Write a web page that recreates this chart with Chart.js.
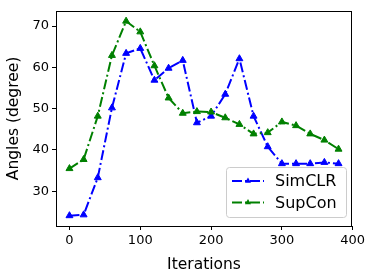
<!DOCTYPE html>
<html>
<head>
<meta charset="utf-8">
<script src="https://cdn.jsdelivr.net/npm/chart.js@4.4.1/dist/chart.umd.min.js"></script>
<style>
  html, body { margin: 0; padding: 0; background: #fff; }
</style>
</head>
<body>
<canvas id="myChart" width="374" height="278"></canvas>
<script>
var iterations = [0, 20, 40, 60, 80, 100, 120, 140, 160, 180, 200, 220, 240, 260, 280, 300, 320, 340, 360, 380];
var simclr = [24.1, 24.3, 33.3, 50.2, 63.4, 64.6, 56.9, 59.8, 61.7, 46.6, 48.2, 53.5, 62.1, 48.2, 40.8, 36.7, 36.7, 36.7, 37.0, 36.7];
var supcon = [35.5, 37.7, 48.2, 62.9, 71.2, 68.6, 60.4, 52.6, 48.9, 49.3, 49.2, 47.8, 46.2, 43.9, 44.2, 46.8, 45.9, 43.9, 42.4, 40.2];
var xTicks = [0, 100, 200, 300, 400];
var yTicks = [30, 40, 50, 60, 70];
var seriesNames = ["SimCLR", "SupCon"];
var seriesColors = ["#0000ff", "#008000"];

var font = "'DejaVu Sans', sans-serif";
var dashDot = [10, 3, 2, 3];

function toPoints(ys) {
  return iterations.map(function (x, i) {
    return { x: x, y: ys[i] };
  });
}

// box round the plot, like matplotlib axes
var frame = {
  id: "frame",
  afterDraw: function (chart) {
    var ctx = chart.ctx;
    var a = chart.chartArea;
    ctx.save();
    ctx.strokeStyle = "#000";
    ctx.lineWidth = 1;
    ctx.strokeRect(Math.round(a.left) + 0.5, Math.round(a.top) + 0.5,
      Math.round(a.right - a.left) - 1, Math.round(a.bottom - a.top));
    ctx.restore();
  }
};

// legend in lower right corner
var boxLegend = {
  id: "boxLegend",
  afterDraw: function (chart) {
    var ctx = chart.ctx;
    var a = chart.chartArea;
    var w = 120, h = 50;
    var x0 = a.right - 6 - w;
    var y0 = a.bottom - 9 - h;
    ctx.save();
    ctx.fillStyle = "rgba(255,255,255,0.8)";
    ctx.strokeStyle = "#cccccc";
    ctx.lineWidth = 1;
    ctx.beginPath();
    ctx.roundRect(x0 + 0.5, y0 + 0.5, w, h, 3);
    ctx.fill();
    ctx.stroke();
    chart.data.datasets.forEach(function (ds, i) {
      var y = y0 + 14 + i * 21.6;
      ctx.strokeStyle = ds.borderColor;
      ctx.lineWidth = 2;
      ctx.setLineDash(dashDot);
      ctx.beginPath();
      ctx.moveTo(x0 + 6, y);
      ctx.lineTo(x0 + 38, y);
      ctx.stroke();
      ctx.setLineDash([]);
      var mx = x0 + 22, r = 3.5;
      ctx.fillStyle = ds.borderColor;
      ctx.beginPath();
      ctx.moveTo(mx, y - r);
      ctx.lineTo(mx + r * 0.866, y + r * 0.5);
      ctx.lineTo(mx - r * 0.866, y + r * 0.5);
      ctx.closePath();
      ctx.fill();
      ctx.fillStyle = "#000";
      ctx.font = "16px " + font;
      ctx.textBaseline = "middle";
      ctx.fillText(ds.label, x0 + 49, y + 1);
    });
    ctx.restore();
  }
};

var ctx = document.getElementById("myChart").getContext("2d");
var myChart = new Chart(ctx, {
  type: "line",
  data: {
    datasets: [
      {
        label: seriesNames[0],
        data: toPoints(simclr),
        borderColor: seriesColors[0],
        backgroundColor: seriesColors[0],
        borderWidth: 2,
        borderDash: dashDot,
        pointStyle: "triangle",
        pointRadius: 4,
        pointBorderWidth: 1,
        order: 1
      },
      {
        label: seriesNames[1],
        data: toPoints(supcon),
        borderColor: seriesColors[1],
        backgroundColor: seriesColors[1],
        borderWidth: 2,
        borderDash: dashDot,
        pointStyle: "triangle",
        pointRadius: 4,
        pointBorderWidth: 1,
        order: 0
      }
    ]
  },
  options: {
    responsive: false,
    animation: false,
    layout: { padding: { top: 9, right: 22, left: 0, bottom: 0 } },
    plugins: {
      legend: { display: false },
      tooltip: { enabled: false }
    },
    scales: {
      x: {
        type: "linear",
        min: -19,
        max: 399,
        afterBuildTicks: function (scale) {
          scale.ticks = xTicks.map(function (v) { return { value: v }; });
        },
        afterFit: function (scale) { scale.height = 52; },
        border: { display: false },
        grid: { drawOnChartArea: false, drawTicks: true, tickLength: 4, color: "#000" },
        ticks: { color: "#000", font: { family: font, size: 13 }, padding: 3, maxRotation: 0 },
        title: { display: true, text: "Iterations", color: "#000", font: { family: font, size: 15.5 }, padding: { top: 2 } }
      },
      y: {
        min: 21.6,
        max: 73.7,
        afterBuildTicks: function (scale) {
          scale.ticks = yTicks.map(function (v) { return { value: v }; });
        },
        afterFit: function (scale) { scale.width = 56; },
        border: { display: false },
        grid: { drawOnChartArea: false, drawTicks: true, tickLength: 4, color: "#000" },
        ticks: { color: "#000", font: { family: font, size: 13 }, padding: 3 },
        title: { display: true, text: "Angles (degree)", color: "#000", font: { family: font, size: 15.5 }, padding: { top: 5, bottom: 0 } }
      }
    }
  },
  plugins: [frame, boxLegend]
});
</script>
</body>
</html>
